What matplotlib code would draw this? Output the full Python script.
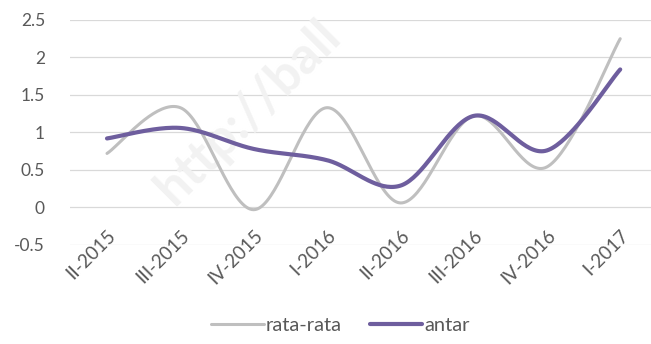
import numpy as np
import matplotlib.pyplot as plt

# quarterly values
quarters = ['II-2015', 'III-2015', 'IV-2015', 'I-2016', 'II-2016', 'III-2016', 'IV-2016', 'I-2017']
rata_rata = [0.72, 1.33, -0.03, 1.33, 0.06, 1.22, 0.54, 2.25]
antar = [0.92, 1.06, 0.78, 0.63, 0.29, 1.22, 0.76, 1.84]
y_ticks = [-0.5, 0, 0.5, 1, 1.5, 2, 2.5]

plt.rcParams['font.family'] = ['Lato', 'DejaVu Sans']


def smooth(vals, n=40):
    # Excel-style smoothed line (Catmull-Rom via cubic Bezier)
    pts = np.column_stack([np.arange(len(vals)), vals]).astype(float)
    out = []
    t = np.linspace(0, 1, n)[:, None]
    for i in range(len(pts) - 1):
        p0 = pts[i - 1] if i > 0 else pts[i]
        p1, p2 = pts[i], pts[i + 1]
        p3 = pts[i + 2] if i + 2 < len(pts) else pts[i + 1]
        c1 = p1 + (p2 - p0) / 6
        c2 = p2 - (p3 - p1) / 6
        seg = (1 - t) ** 3 * p1 + 3 * (1 - t) ** 2 * t * c1 + 3 * (1 - t) * t ** 2 * c2 + t ** 3 * p2
        out.append(seg if i == 0 else seg[1:])
    out = np.vstack(out)
    return out[:, 0], out[:, 1]


fig = plt.figure(figsize=(6.51, 3.44), dpi=100)
ax = fig.add_axes([0.1075, 0.288, 0.8925, 0.654])

# faint watermark
ax.text(0.19, 0.14, 'http://ball', transform=ax.transAxes, rotation=45,
        fontsize=37, fontweight='bold', color='#f2f2f2', ha='left', va='bottom',
        rotation_mode='anchor', zorder=1.5, clip_on=False)

gx, gy = smooth(rata_rata)
ax.plot(gx, gy, color='#BFBFBF', lw=2.2, label='rata-rata', zorder=3, solid_capstyle='round')
px, py = smooth(antar)
ax.plot(px, py, color='#6E5E9E', lw=3.0, label='antar', zorder=4, solid_capstyle='round')

ax.set_xlim(-0.505, 7.42)
ax.set_ylim(-0.5, 2.5)
ax.set_yticks(y_ticks)
ax.set_yticklabels([f'{v:g}' for v in y_ticks])
ax.set_xticks(range(len(quarters)))
ax.set_xticklabels(quarters, rotation=45, ha='right', va='top', rotation_mode='anchor')

ax.grid(axis='y', color='#D9D9D9', lw=0.9)
ax.set_axisbelow(True)
for s in ax.spines.values():
    s.set_visible(False)
ax.tick_params(axis='y', length=0, pad=18, labelsize=12.5, labelcolor='#595959')
ax.tick_params(axis='x', length=0, pad=-13, labelsize=13.5, labelcolor='#595959')

fig.legend(loc='center', bbox_to_anchor=(0.523, 0.055), ncol=2, frameon=False,
           fontsize=14.5, labelcolor='#595959', handlelength=2.6, handletextpad=0.1,
           columnspacing=1.4)

fig.savefig('out.png', dpi=100)
